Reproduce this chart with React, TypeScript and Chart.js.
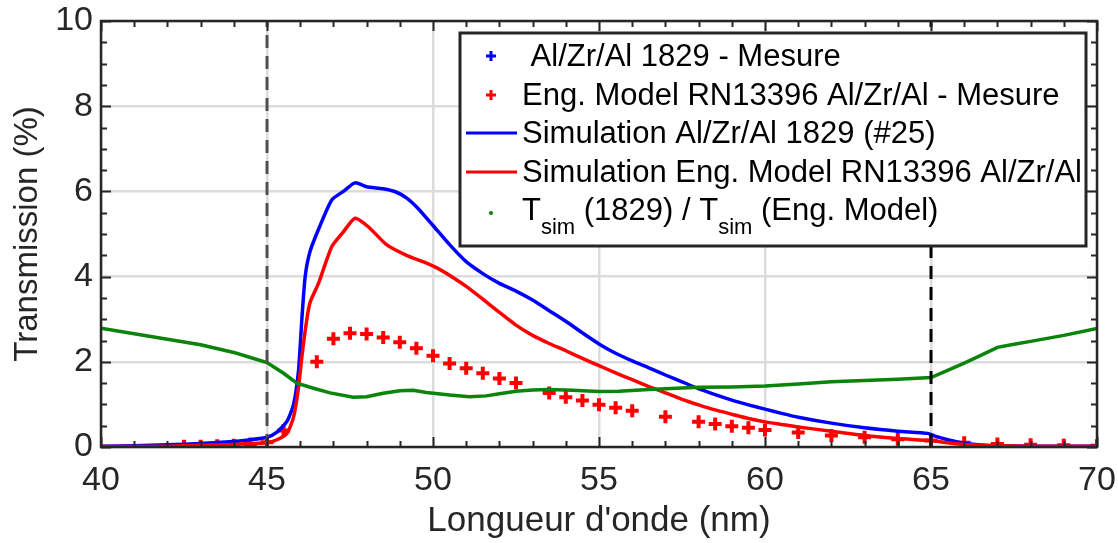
import React, { useEffect, useRef } from "react";
import { Chart, registerables } from "chart.js";

Chart.register(...registerables);

// ---- Data ----
const simBlueX = [40, 41, 42, 43, 44, 44.5, 45, 45.3, 45.6, 45.8, 45.95, 46.05, 46.15, 46.3, 46.6, 46.95, 47.3, 47.65, 48.0, 48.5, 48.9, 49.2, 49.55, 50.0, 50.5, 51.0, 51.5, 52.0, 52.5, 53.0, 53.5, 54.0, 54.5, 55.0, 55.5, 56.0, 56.5, 57.0, 57.5, 58.0, 58.5, 59.0, 59.5, 60.0, 60.5, 61.0, 62.0, 63.0, 64.0, 64.9, 65.1, 65.5, 66.0, 66.5, 67.0, 68.0, 70.0];
const simBlueY = [0.02, 0.03, 0.05, 0.08, 0.13, 0.17, 0.23, 0.35, 0.6, 1.0, 1.8, 3.0, 4.0, 4.6, 5.2, 5.8, 6.0, 6.2, 6.11, 6.06, 5.98, 5.85, 5.6, 5.2, 4.75, 4.35, 4.07, 3.84, 3.66, 3.45, 3.2, 2.95, 2.68, 2.42, 2.2, 2.02, 1.86, 1.69, 1.53, 1.37, 1.23, 1.1, 0.99, 0.89, 0.79, 0.7, 0.56, 0.45, 0.37, 0.32, 0.26, 0.17, 0.09, 0.05, 0.03, 0.02, 0.02];

const simRedX = [40, 42, 43, 44, 44.5, 45, 45.3, 45.6, 45.8, 45.95, 46.05, 46.2, 46.3, 46.55, 46.95, 47.3, 47.65, 48.05, 48.6, 49.2, 49.7, 50.2, 50.6, 51.0, 51.5, 52.0, 52.5, 53.0, 53.5, 54.0, 54.5, 55.0, 55.5, 56.0, 56.5, 57.0, 57.5, 58.0, 58.5, 59.0, 59.5, 60.0, 60.5, 61.0, 62.0, 63.0, 64.0, 65.0, 65.5, 66.0, 67.0, 68.0, 70.0];
const simRedY = [0.01, 0.02, 0.04, 0.06, 0.08, 0.1, 0.17, 0.32, 0.7, 1.4, 2.12, 3.0, 3.4, 3.84, 4.7, 5.05, 5.37, 5.17, 4.75, 4.5, 4.35, 4.17, 3.98, 3.77, 3.47, 3.16, 2.86, 2.62, 2.43, 2.26, 2.08, 1.91, 1.74, 1.58, 1.42, 1.27, 1.12, 0.99, 0.87, 0.77, 0.67, 0.59, 0.53, 0.47, 0.37, 0.27, 0.2, 0.15, 0.1, 0.06, 0.03, 0.02, 0.02];

const ratioX = [40, 41, 42, 43, 44, 44.5, 45, 45.5, 45.9, 46.4, 46.9, 47.6, 48.0, 48.5, 49.0, 49.4, 49.8, 50.5, 51.1, 51.6, 52.0, 52.5, 53.0, 53.5, 54.2, 55.0, 55.6, 56.5, 58.0, 59.0, 60.0, 61.0, 62.0, 63.0, 64.0, 65.0, 65.5, 66.0, 66.5, 67.0, 67.5, 68.0, 69.0, 70.0];
const ratioY = [2.79, 2.66, 2.53, 2.4, 2.22, 2.1, 1.98, 1.73, 1.5, 1.38, 1.27, 1.17, 1.18, 1.26, 1.32, 1.33, 1.28, 1.22, 1.18, 1.2, 1.25, 1.31, 1.34, 1.35, 1.33, 1.3, 1.31, 1.35, 1.4, 1.41, 1.43, 1.48, 1.53, 1.56, 1.59, 1.63, 1.8, 1.97, 2.15, 2.34, 2.41, 2.48, 2.62, 2.78];

const measRedX = [42.5, 43, 43.5, 44, 44.5, 45, 45.5, 46.5, 47, 47.5, 48, 48.5, 49, 49.5, 50, 50.5, 51, 51.5, 52, 52.5, 53.5, 54, 54.5, 55, 55.5, 56, 57, 58, 58.5, 59, 59.5, 60, 61, 62, 63, 64, 65, 66, 67, 68, 69, 70];
const measRedY = [0.02, 0.02, 0.03, 0.04, 0.07, 0.11, 0.39, 2.0, 2.54, 2.67, 2.65, 2.57, 2.46, 2.32, 2.14, 1.96, 1.85, 1.73, 1.61, 1.5, 1.27, 1.17, 1.09, 0.99, 0.92, 0.85, 0.71, 0.59, 0.54, 0.49, 0.45, 0.4, 0.34, 0.27, 0.23, 0.18, 0.15, 0.1, 0.07, 0.05, 0.04, 0.03];

const measBlueX: number[] = [];
const measBlueY: number[] = [];

const bandEdges = [45, 65];
const bandYRange = [0, 10];

const xTitle = "Longueur d'onde (nm)";
const yTitle = "Transmission (%)";
const legendLabels = [
  " Al/Zr/Al 1829 - Mesure",
  "Eng. Model RN13396 Al/Zr/Al - Mesure",
  "Simulation Al/Zr/Al 1829 (#25)",
  "Simulation Eng. Model RN13396 Al/Zr/Al",
];

const FONT = "'Liberation Sans', Arial, Helvetica, sans-serif";
const AX = "#262626";

const zip = (xs: number[], ys: number[]) => xs.map((x, i) => ({ x, y: ys[i] }));

const axesPlugin = {
  id: "matlabAxes",
  afterDatasetsDraw(chart: any) {
    const { ctx, chartArea: a, scales } = chart;
    const xs = scales.x;
    const ys = scales.y;
    ctx.save();
    ctx.strokeStyle = AX;
    ctx.lineWidth = 2;
    ctx.lineCap = "butt";
    ctx.beginPath();
    for (let v = 40; v <= 70.001; v += 1) {
      const p = Math.round(xs.getPixelForValue(v)) + 0.5;
      const len = Math.abs(v % 5) < 1e-6 ? 10 : 6;
      ctx.moveTo(p, a.bottom);
      ctx.lineTo(p, a.bottom - len);
      ctx.moveTo(p, a.top);
      ctx.lineTo(p, a.top + len);
    }
    for (let v = 0; v <= 10.001; v += 0.5) {
      const p = Math.round(ys.getPixelForValue(v)) + 0.5;
      const len = Math.abs(v % 2) < 1e-6 ? 10 : 6;
      ctx.moveTo(a.left, p);
      ctx.lineTo(a.left + len, p);
      ctx.moveTo(a.right, p);
      ctx.lineTo(a.right - len, p);
    }
    ctx.stroke();
    ctx.lineWidth = 2.5;
    ctx.strokeRect(a.left, a.top, a.right - a.left, a.bottom - a.top);

    // legend
    const L = { x1: 460, y1: 33, x2: 1086, y2: 246 };
    ctx.fillStyle = "#ffffff";
    ctx.fillRect(L.x1, L.y1, L.x2 - L.x1, L.y2 - L.y1);
    ctx.lineWidth = 3;
    ctx.strokeStyle = AX;
    ctx.strokeRect(L.x1, L.y1, L.x2 - L.x1, L.y2 - L.y1);

    const rows = [56, 95, 133, 172, 210];
    const tx = 522;
    const mx = 491;
    ctx.textBaseline = "middle";
    ctx.textAlign = "left";
    ctx.fillStyle = "#000";
    ctx.font = `31px ${FONT}`;

    const cross = (x: number, y: number, c: string) => {
      ctx.strokeStyle = c;
      ctx.lineWidth = 3;
      ctx.beginPath();
      ctx.moveTo(x - 5, y);
      ctx.lineTo(x + 5, y);
      ctx.moveTo(x, y - 5);
      ctx.lineTo(x, y + 5);
      ctx.stroke();
    };
    const seg = (y: number, c: string) => {
      ctx.strokeStyle = c;
      ctx.lineWidth = 3;
      ctx.beginPath();
      ctx.moveTo(466, y);
      ctx.lineTo(517, y);
      ctx.stroke();
    };
    cross(mx, rows[0], "#0000ff");
    cross(mx, rows[1], "#ff0000");
    seg(rows[2], "#0000ff");
    seg(rows[3], "#ff0000");
    ctx.fillStyle = "#008000";
    ctx.beginPath();
    ctx.arc(mx, rows[4] + 3, 2, 0, Math.PI * 2);
    ctx.fill();

    ctx.fillStyle = "#000";
    for (let i = 0; i < 4; i++) ctx.fillText(legendLabels[i], tx, rows[i] + 1);

    // T_sim (1829) / T_sim (Eng. Model)
    let x = tx;
    const y5 = rows[4];
    const parts: [string, boolean][] = [
      ["T", false],
      ["sim", true],
      [" (1829) / T", false],
      ["sim", true],
      [" (Eng. Model)", false],
    ];
    for (const [s, sub] of parts) {
      ctx.font = sub ? `22px ${FONT}` : `31px ${FONT}`;
      ctx.fillText(s, x, sub ? y5 + 18 : y5 + 1);
      x += ctx.measureText(s).width;
    }
    ctx.restore();
  },
};

export default function App() {
  const ref = useRef<HTMLCanvasElement | null>(null);
  useEffect(() => {
    if (!ref.current) return;
    Chart.defaults.font.family = FONT;
    const chart = new Chart(ref.current, {
      type: "scatter",
      data: {
        datasets: [
          {
            label: "bandLow",
            data: zip([bandEdges[0], bandEdges[0]], bandYRange),
            showLine: true,
            borderColor: "#505050",
            borderWidth: 3,
            borderDash: [13, 8],
            pointRadius: 0,
            order: 0,
          },
          {
            label: "bandHigh",
            data: zip([bandEdges[1], bandEdges[1]], bandYRange),
            showLine: true,
            borderColor: "#000000",
            borderWidth: 3,
            borderDash: [13, 8],
            pointRadius: 0,
            order: 0,
          },
          {
            label: "ratio",
            data: zip(ratioX, ratioY),
            showLine: true,
            borderColor: "#0a840a",
            borderWidth: 3.5,
            pointRadius: 0,
            order: 1,
          },
          {
            label: legendLabels[3],
            data: zip(simRedX, simRedY),
            showLine: true,
            borderColor: "#ff0000",
            borderWidth: 3.5,
            pointRadius: 0,
            tension: 0.2,
            order: 2,
          },
          {
            label: legendLabels[2],
            data: zip(simBlueX, simBlueY),
            showLine: true,
            borderColor: "#0000ff",
            borderWidth: 3.5,
            pointRadius: 0,
            tension: 0.2,
            order: 3,
          },
          {
            label: legendLabels[1],
            data: zip(measRedX, measRedY),
            showLine: false,
            pointStyle: "cross",
            pointRadius: 6.5,
            borderColor: "#ff0000",
            borderWidth: 4,
            order: 4,
          },
          {
            label: legendLabels[0],
            data: zip(measBlueX, measBlueY),
            showLine: false,
            pointStyle: "cross",
            pointRadius: 6.5,
            borderColor: "#0000ff",
            borderWidth: 4,
            order: 5,
          },
        ],
      },
      options: {
        animation: false,
        responsive: false,
        maintainAspectRatio: false,
        layout: { padding: { top: 21, right: 21, left: 0, bottom: 0 } },
        plugins: { legend: { display: false }, tooltip: { enabled: false } },
        scales: {
          x: {
            type: "linear",
            min: 40,
            max: 70,
            afterFit: (s: any) => {
              s.height = 96;
              s.paddingLeft = 0;
              s.paddingRight = 0;
            },
            ticks: { stepSize: 5, font: { size: 34 }, color: AX, padding: 13, maxRotation: 0 },
            grid: { color: "#dcdcdc", lineWidth: 2.5, drawTicks: false },
            border: { display: false },
            title: { display: true, text: xTitle, font: { size: 35 }, color: AX, padding: { top: 0, bottom: 1 } },
          },
          y: {
            type: "linear",
            min: 0,
            max: 10,
            afterFit: (s: any) => {
              s.width = 101;
              s.paddingTop = 0;
              s.paddingBottom = 0;
            },
            ticks: { stepSize: 2, font: { size: 34 }, color: AX, padding: 8 },
            grid: { color: "#dcdcdc", lineWidth: 2.5, drawTicks: false },
            border: { display: false },
            title: { display: true, text: yTitle, font: { size: 33 }, color: AX, padding: { top: 8, bottom: 0 } },
          },
        },
      },
      plugins: [axesPlugin],
    });
    return () => chart.destroy();
  }, []);
  return (
    <div style={{ position: "absolute", left: 0, top: 0, width: 1118, height: 543, background: "#fff" }}>
      <canvas ref={ref} width={1118} height={543} style={{ display: "block" }} />
    </div>
  );
}
